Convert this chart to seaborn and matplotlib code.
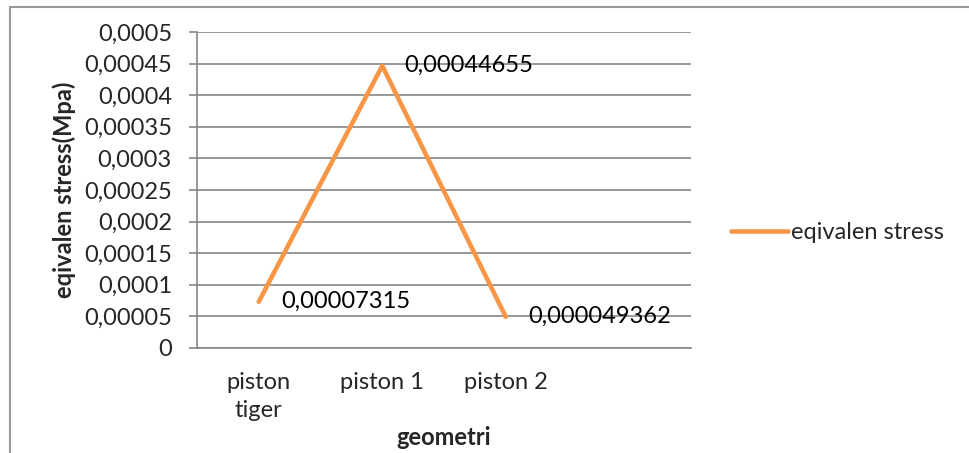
import seaborn as sns
import pandas as pd
import matplotlib.pyplot as plt
from matplotlib.patches import Rectangle

# data
geometri = ["piston\ntiger", "piston 1", "piston 2"]
stress = [0.00007315, 0.00044655, 0.000049362]
stress_labels = ["0,00007315", "0,00044655", "0,000049362"]
y_ticks = [0, 0.00005, 0.0001, 0.00015, 0.0002, 0.00025, 0.0003, 0.00035, 0.0004, 0.00045, 0.0005]
y_tick_labels = ["0", "0,00005", "0,0001", "0,00015", "0,0002", "0,00025",
                 "0,0003", "0,00035", "0,0004", "0,00045", "0,0005"]

sns.set_style("white")
plt.rcParams['font.family'] = ["Lato", "DejaVu Sans"]

df = pd.DataFrame({"geometri": geometri, "stress": stress})

fig = plt.figure(figsize=(9.69, 4.53), dpi=100)
ax = fig.add_axes([197 / 969, 1 - 348 / 453, 494 / 969, 316 / 453])

grid_col = "#868686"
orange = "#F79646"
fs = 17

sns.lineplot(data=df, x="geometri", y="stress", ax=ax, color=orange, linewidth=3.3,
             solid_capstyle="round", sort=False, label="eqivalen stress")

# data labels right of each point
for i, (v, txt) in enumerate(zip(stress, stress_labels)):
    ax.annotate(txt, (i, v), xytext=(16, 0), textcoords="offset points",
                ha="left", va="center", fontsize=fs, color="black")

ax.set_xlim(-0.5, 3.5)
ax.set_ylim(0, 0.0005)
ax.set_yticks(y_ticks)
ax.set_yticklabels(y_tick_labels, fontsize=fs)
ax.set_xticks(range(len(geometri)))
ax.set_xticklabels(geometri, fontsize=fs, linespacing=1.45)

ax.grid(axis="y", color=grid_col, linewidth=1.2)
ax.set_axisbelow(True)
for side in ["top", "right"]:
    ax.spines[side].set_visible(False)
ax.spines["left"].set_color(grid_col)
ax.spines["bottom"].set_color(grid_col)
ax.spines["left"].set_linewidth(1.2)
ax.spines["bottom"].set_linewidth(1.2)
ax.tick_params(axis="y", length=6, width=1.2, color=grid_col, pad=12, left=True)
ax.tick_params(axis="x", length=0, pad=17)

ax.set_ylabel("eqivalen stress(Mpa)", fontsize=fs, fontweight="bold", va="center")
ax.yaxis.set_label_coords(-0.269, 0.5)
ax.set_xlabel("geometri", fontsize=fs, fontweight="bold", va="center")
ax.xaxis.set_label_coords(0.5, -0.282)

ax.legend(loc="center left", bbox_to_anchor=(731 / 969, 1 - 233 / 453),
          bbox_transform=fig.transFigure, frameon=False, fontsize=fs,
          handlelength=2.4, handletextpad=0.15, borderpad=0, borderaxespad=0)

# outer chart border (right/bottom cut off in the reference)
fig.patches.append(Rectangle((9.5 / 969, -0.1), 1.2, 1.1 - 7.5 / 453,
                             transform=fig.transFigure, fill=False,
                             edgecolor="#999999", linewidth=1.5))

fig.savefig("out.png", dpi=100)
